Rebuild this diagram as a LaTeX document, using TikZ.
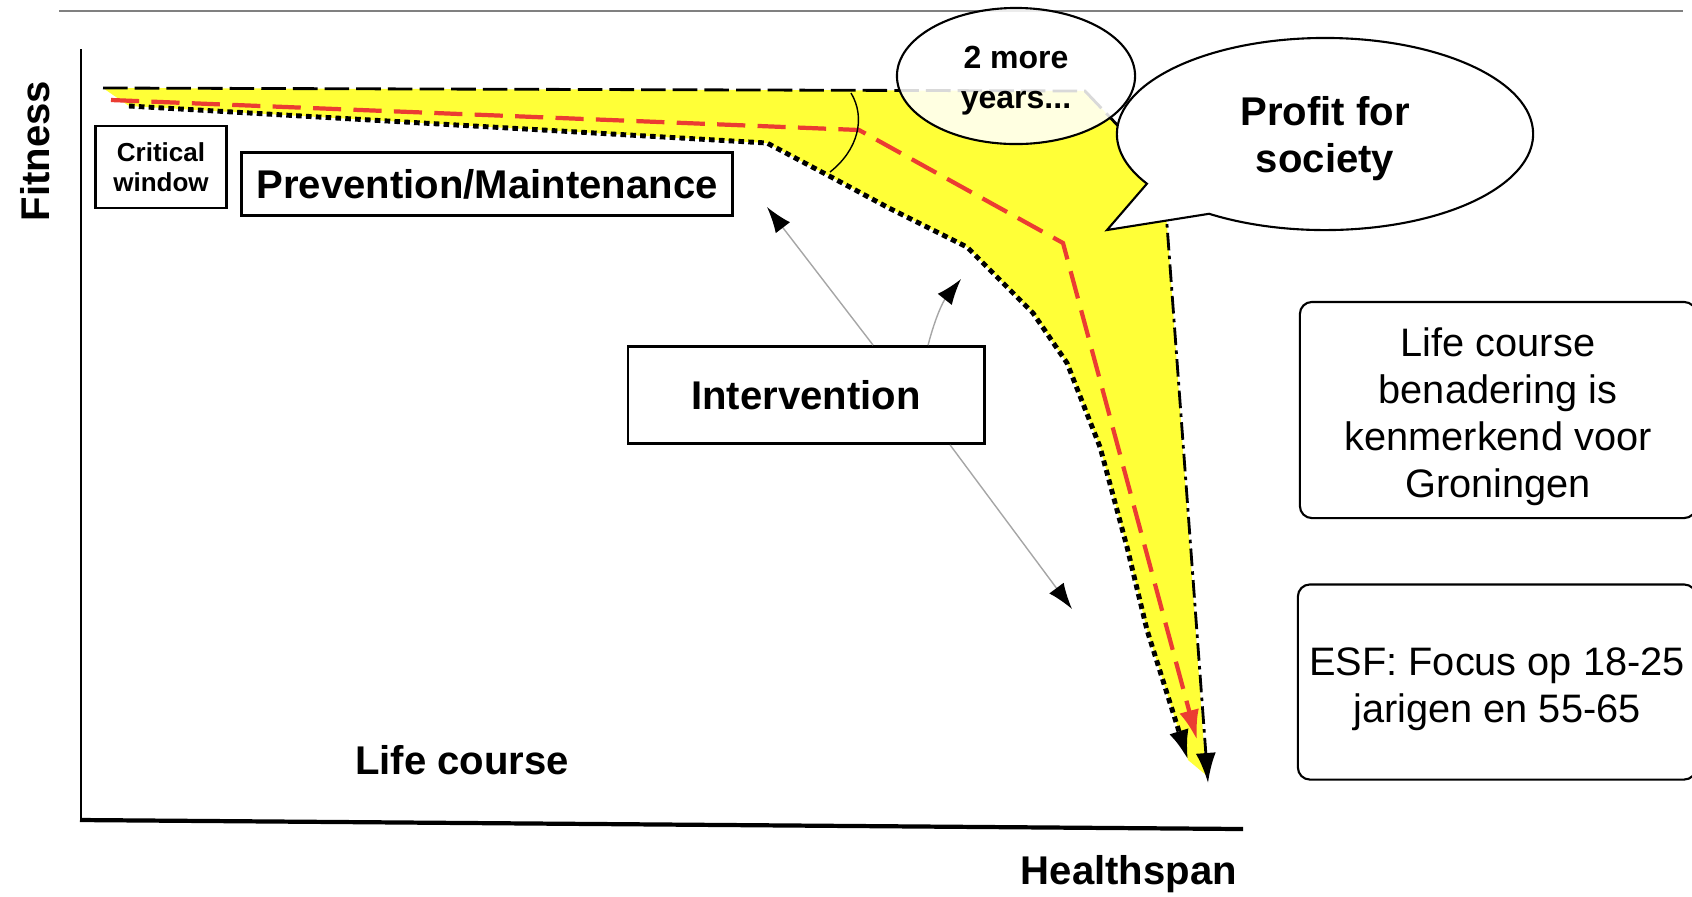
\documentclass[tikz,border=0pt]{standalone}
\usepackage{fontspec}
\setmainfont{Liberation Sans}
\usetikzlibrary{arrows.meta,shapes.geometric,shapes.callouts}
\definecolor{fityellow}{RGB}{255,255,55}
\definecolor{curvered}{RGB}{235,60,50}
\newcommand{\topstrut}[1]{\rule{0pt}{#1}}
\tikzset{
  labeltext/.style={font=\fontsize{11.4}{13.4}\selectfont\bfseries},
  framebox/.style={draw, line width=0.8pt, inner sep=0pt, align=center},
  notebox/.style={draw, rounded corners=0.12cm, line width=0.6pt, inner sep=0pt, align=center, font=\fontsize{11.3}{13.4}\selectfont},
  interarrow/.style={gray!70, line width=0.4pt, -{Latex[length=2.6mm,width=1.8mm,color=black]}},
}
\begin{document}
\begin{tikzpicture}[x=0.01cm, y=-0.01cm, >={Latex[length=3mm,width=2mm]}]
		\useasboundingbox (0,0) rectangle (1692,896);
		\draw[gray, line width=0.5pt] (59,11) -- (1683,11);
		\draw[line width=0.8pt] (81,49) -- (81,821);
		\draw[line width=1.2pt] (80,820) -- (1243,829);
		% band between the two curves
		\fill[fityellow] (103,88) -- (1085,91) -- (1160,170) -- (1167,225) -- (1206,775) -- (1188,760) -- (1147,630) -- (1127,547) -- (1100,447) -- (1067,363) -- (1033,313) -- (967,247) -- (887,207) -- (833,178) -- (767,143) -- (129,106) -- cycle;
		\draw[line width=0.8pt, dash pattern=on 7pt off 2pt] (103,88) -- (1085,91) -- (1160,170);
		\draw[line width=0.8pt, dash pattern=on 5pt off 1.5pt on 1pt off 1.5pt, ->] (1160,170) -- (1167,225) -- (1208,783);
		\draw[line width=1.4pt, dash pattern=on 1.6pt off 1.2pt, line join=round, ->] (129,106) -- (767,143) -- (833,178) -- (887,207) -- (967,247) -- (1033,313) -- (1067,363) -- (1100,447) -- (1127,547) -- (1147,630) -- (1188,760);
		\draw[curvered, line width=1.2pt, dash pattern=on 8pt off 3.5pt, ->] (111,100) -- (859,130) -- (1063,243) -- (1197,740);
		\draw[line width=0.4pt] (851,93) .. controls (866,118) and (858,150) .. (830,172);
		\node[framebox, minimum width=1.31cm, minimum height=0.82cm, font=\fontsize{7.4}{8.5}\selectfont\bfseries] (critical) at (161,167) {Critical\\window};
		\node[framebox, labeltext, minimum width=4.9cm, minimum height=0.63cm] (prevention) at (487,184) {Prevention/Maintenance};
		\node[framebox, labeltext, minimum width=3.56cm, minimum height=0.97cm] (intervention) at (806,395) {Intervention};
		\node[ellipse, draw, fill=white, fill opacity=0.85, text opacity=1, line width=0.6pt, minimum width=2.38cm, minimum height=1.36cm, inner sep=0pt, align=center, font=\fontsize{9.1}{11.4}\selectfont\bfseries] (moreyears) at (1016,76) {\topstrut{8.9pt}2 more\\years...};
		\node[ellipse callout, draw, fill=white, line width=0.6pt, minimum width=4.16cm, minimum height=1.92cm, callout absolute pointer={(1107,230)}, callout pointer arc=25, labeltext, align=center] (profit) at (1325,134) {\topstrut{11pt}Profit for\\society};
		\coordinate (tipa) at (767,207);
		\coordinate (tipb) at (961,279);
		\coordinate (tipc) at (1072,609);
		\draw[interarrow] ([xshift=0.67cm]intervention.north) -- (tipa);
		\draw[interarrow] ([xshift=1.22cm]intervention.north) to[bend left=12] (tipb);
		\draw[interarrow] ([xshift=1.44cm]intervention.south) -- (tipc);
		\node[notebox, minimum width=3.96cm, minimum height=2.16cm] (approach) at (1498,410) {\topstrut{12pt}Life course\\benadering is\\kenmerkend voor\\Groningen};
		\node[notebox, minimum width=3.98cm, minimum height=1.95cm] (esf) at (1497,682) {\topstrut{12pt}ESF: Focus op 18-25\\jarigen en 55-65};
		\node[labeltext, rotate=90] (fitness) at (35,151) {Fitness};
		\node[labeltext] (healthspan) at (1129,874) {Healthspan};
		\node[labeltext] (lifecourse) at (462,760) {Life course};
\end{tikzpicture}
\end{document}
